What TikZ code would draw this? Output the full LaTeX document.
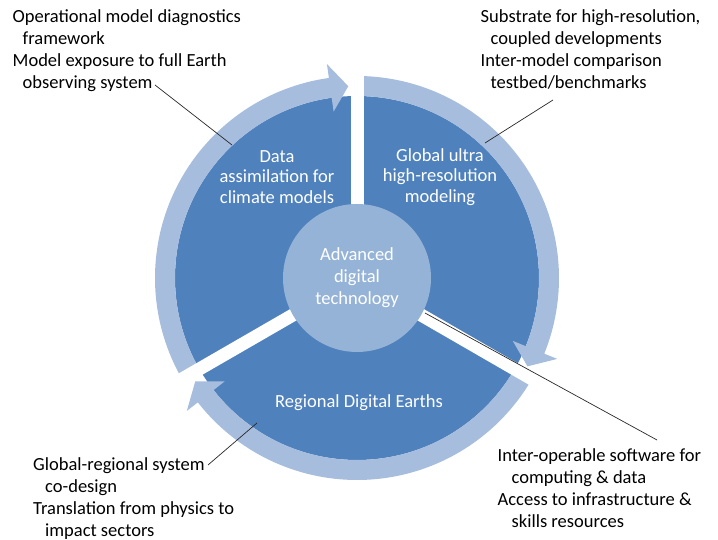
\documentclass[tikz,border=0pt]{standalone}
\usepackage{fontspec}
\setmainfont{Carlito}
\usetikzlibrary{positioning,calc}
\definecolor{wheelblue}{RGB}{79,129,189}
\definecolor{ringblue}{RGB}{167,189,222}
\definecolor{hubblue}{RGB}{149,179,215}
\definecolor{leadergray}{RGB}{40,40,40}

\begin{document}
\begin{tikzpicture}[
    x=1pt, y=1pt,
    every node/.style={font=\fontsize{18.5}{22}\selectfont},
    segtext/.style={text=white, align=center, inner sep=0pt, font=\fontsize{18.5}{20.5}\selectfont},
    hubnode/.style={circle, fill=hubblue, text=white, align=center, minimum size=148pt, inner sep=0pt},
    notebox/.style={anchor=north west, align=left, inner sep=0pt, text=black},
    gapline/.style={draw=white, line width=13pt},
    leader/.style={draw=leadergray, line width=0.7pt}
]
\useasboundingbox (0,0) rectangle (718,540);
\coordinate (c) at (357,262);

    % wheel body
    \fill[wheelblue] (c) circle (182);

    % ring arrows, clockwise, tail/tip angles
    \foreach \tail/\tip in {210/92.6, 90/-27.4, -30/-147.4}{
        \pgfmathsetmacro\base{\tip+5.4}
        \fill[ringblue] ($(c)+(\tail:202)$) arc[start angle=\tail, end angle=\base, radius=202]
            -- ($(c)+(\base:216)$) -- ($(c)+(\tip:192)$) -- ($(c)+(\base:168)$)
            -- ($(c)+(\base:182)$) arc[start angle=\base, end angle=\tail, radius=182] -- cycle;
    }

    % white gaps between the three sectors
    \foreach \a in {90,-30,210}
        \draw[gapline] (c) -- ++(\a:224);

    \node (hub) [hubnode] at (c) {Advanced\\digital\\technology};
    \node (assim) [segtext] at (277,363) {Data\\assimilation for\\climate models};
    \node (global) [segtext] at (440,363) {Global ultra\\high-resolution\\modeling};
    \node (regional) [segtext] at (359,137) {Regional Digital Earths};

    \node (assimnote) [notebox] at (12.5,530.5) {Operational model diagnostics\\\hspace*{10pt}framework\\Model exposure to full Earth\\\hspace*{10pt}observing system};
    \node (globalnote) [notebox] at (480.5,530.5) {Substrate for high-resolution,\\\hspace*{10pt}coupled developments\\Inter-model comparison\\\hspace*{10pt}testbed/benchmarks};
    \node (regionalnote) [notebox] at (33,83) {Global-regional system\\\hspace*{12pt}co-design\\Translation from physics to\\\hspace*{12pt}impact sectors};
    \node (hubnote) [notebox] at (497.5,92) {Inter-operable software for\\\hspace*{14pt}computing \& data\\Access to infrastructure \&\\\hspace*{14pt}skills resources};

    \coordinate (assimfrom) at (155,455);
    \coordinate (assimto) at (232,395);
    \coordinate (globalfrom) at (553,440);
    \coordinate (globalto) at (485,397);
    \coordinate (regionalfrom) at (208,75);
    \coordinate (regionalto) at (257,117);
    \coordinate (hubfrom) at (425,227);
    \coordinate (hubto) at (657,100);

    \draw[leader] (assimfrom) -- (assimto);
    \draw[leader] (globalfrom) -- (globalto);
    \draw[leader] (regionalfrom) -- (regionalto);
    \draw[leader] (hubfrom) -- (hubto);

\end{tikzpicture}
\end{document}
